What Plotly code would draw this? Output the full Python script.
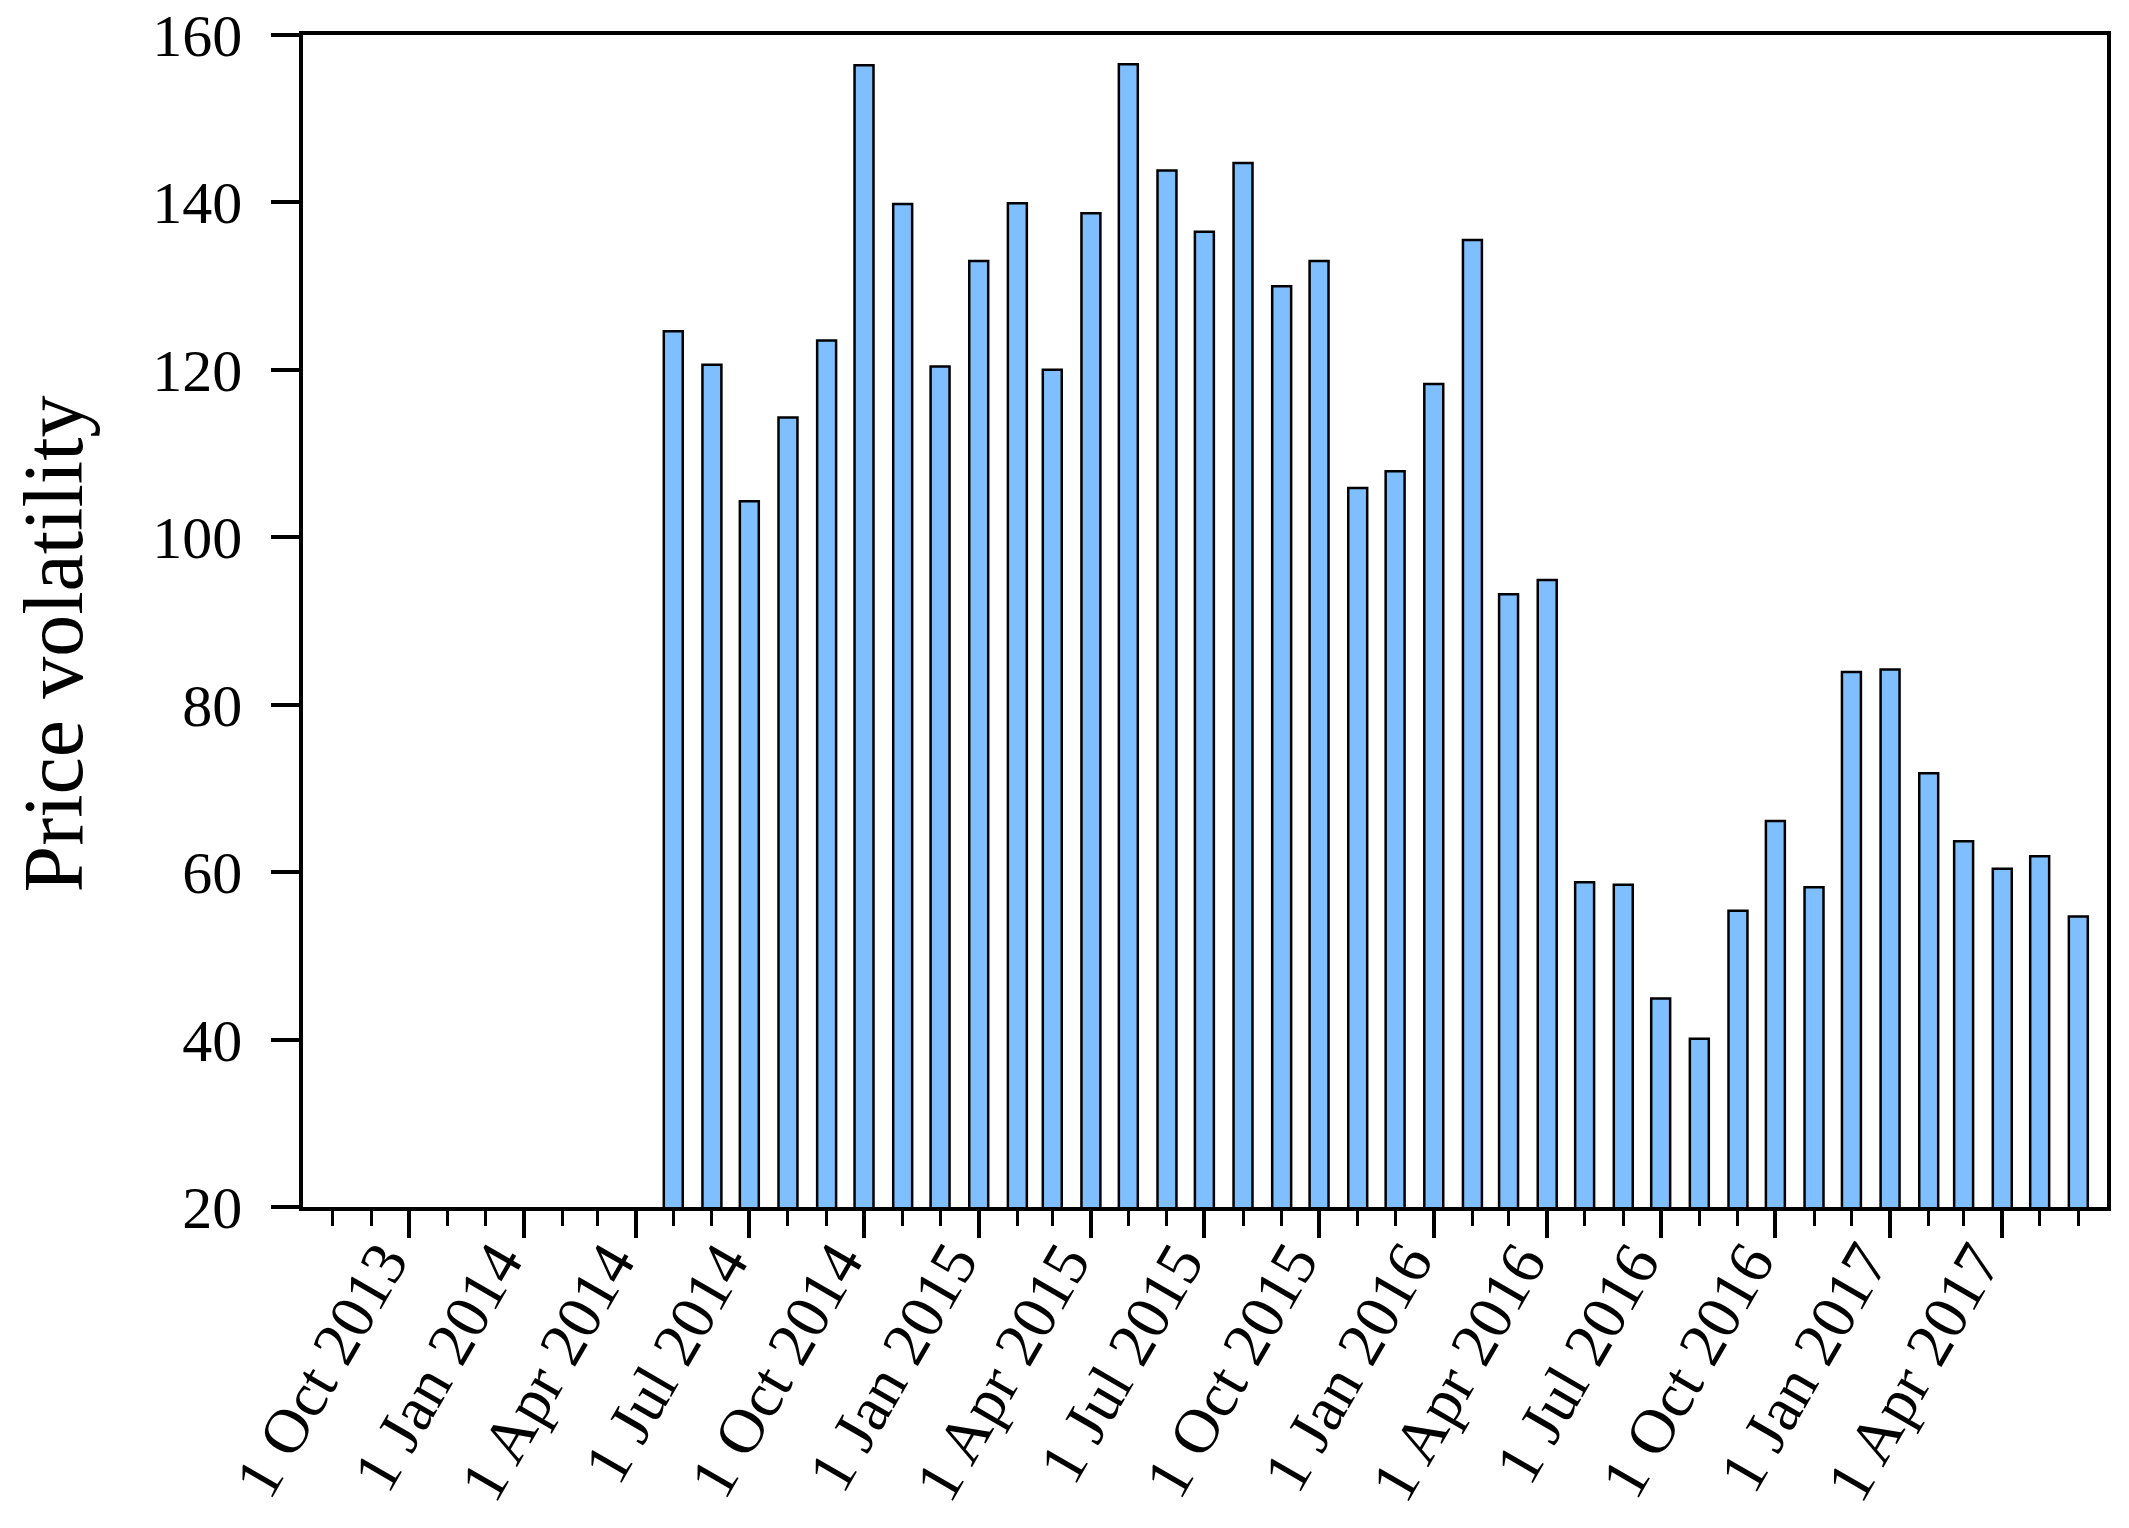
import plotly.graph_objects as go

# ---- data ----
months = [
    "2014-05-01", "2014-06-01", "2014-07-01", "2014-08-01", "2014-09-01", "2014-10-01",
    "2014-11-01", "2014-12-01", "2015-01-01", "2015-02-01", "2015-03-01", "2015-04-01",
    "2015-05-01", "2015-06-01", "2015-07-01", "2015-08-01", "2015-09-01", "2015-10-01",
    "2015-11-01", "2015-12-01", "2016-01-01", "2016-02-01", "2016-03-01", "2016-04-01",
    "2016-05-01", "2016-06-01", "2016-07-01", "2016-08-01", "2016-09-01", "2016-10-01",
    "2016-11-01", "2016-12-01", "2017-01-01", "2017-02-01", "2017-03-01", "2017-04-01",
    "2017-05-01", "2017-06-01",
]
volatility = [
    124.6, 120.6, 104.3, 114.3, 123.5, 156.4,
    139.8, 120.4, 133.0, 139.9, 120.0, 138.7,
    156.5, 143.8, 136.5, 144.7, 130.0, 133.0,
    105.9, 107.9, 118.3, 135.5, 93.2, 94.9,
    58.8, 58.5, 44.9, 40.1, 55.4, 66.1,
    58.2, 83.9, 84.2, 71.8, 63.7, 60.4,
    61.9, 54.7,
]
tick_dates = [
    "2013-10-01", "2014-01-01", "2014-04-01", "2014-07-01", "2014-10-01",
    "2015-01-01", "2015-04-01", "2015-07-01", "2015-10-01", "2016-01-01",
    "2016-04-01", "2016-07-01", "2016-10-01", "2017-01-01", "2017-04-01",
]
tick_labels = [
    "1 Oct 2013", "1 Jan 2014", "1 Apr 2014", "1 Jul 2014", "1 Oct 2014",
    "1 Jan 2015", "1 Apr 2015", "1 Jul 2015", "1 Oct 2015", "1 Jan 2016",
    "1 Apr 2016", "1 Jul 2016", "1 Oct 2016", "1 Jan 2017", "1 Apr 2017",
]
y_ticks = [20, 40, 60, 80, 100, 120, 140, 160]

FONT = "Liberation Serif"
DAY_MS = 86400000
W, H = 2129, 1528
ML, MR, MT, MB = 295, 30, 27, 329
PLOT_W = W - ML - MR
PLOT_H = H - MT - MB

fig = go.Figure()
fig.add_trace(go.Bar(
    x=months,
    y=volatility,
    width=[15.2 * DAY_MS] * len(months),
    marker=dict(color="#80BFFF", line=dict(color="black", width=2.5)),
    showlegend=False,
))

# rotated date labels hanging from the major ticks
label_annotations = [
    dict(
        text=lab,
        xref="x", yref="paper",
        x=d, y=-22 / PLOT_H,
        xanchor="right", yanchor="top",
        xshift=16,
        textangle=-60,
        showarrow=False,
        font=dict(family=FONT, size=63, color="black"),
    )
    for d, lab in zip(tick_dates, tick_labels)
]

fig.update_layout(
    width=W,
    height=H,
    margin=dict(l=ML, r=MR, t=MT, b=MB, autoexpand=False),
    paper_bgcolor="white",
    plot_bgcolor="white",
    font=dict(family=FONT, size=60, color="black"),
    xaxis=dict(
        type="date",
        range=["2013-07-08", "2017-06-24"],
        tickmode="array",
        tickvals=tick_dates,
        ticktext=tick_labels,
        showticklabels=False,
        ticks="outside",
        ticklen=27,
        tickwidth=3.5,
        tickcolor="black",
        showgrid=False,
        showline=True,
        linecolor="black",
        linewidth=3.5,
        mirror=True,
        automargin=False,
        minor=dict(
            tickmode="linear",
            tick0="2013-08-01",
            dtick="M1",
            ticks="outside",
            ticklen=15,
            tickwidth=3,
            tickcolor="black",
            showgrid=False,
        ),
    ),
    yaxis=dict(
        range=[20, 160],
        tickmode="array",
        tickvals=y_ticks,
        ticks="outside",
        ticklen=28,
        tickwidth=3.5,
        tickcolor="black",
        ticklabelstandoff=17,
        ticklabeloverflow="allow",
        tickfont=dict(family=FONT, size=60, color="black"),
        showgrid=False,
        zeroline=False,
        showline=True,
        linecolor="black",
        linewidth=3.5,
        mirror=True,
        automargin=False,
    ),
    annotations=label_annotations + [dict(
        text="Price volatility",
        xref="paper", yref="paper",
        x=(45 - ML) / PLOT_W, y=0.48,
        xanchor="center", yanchor="middle",
        textangle=-90,
        showarrow=False,
        font=dict(family=FONT, size=84, color="black"),
    )],
)

fig.write_html("out.html")
